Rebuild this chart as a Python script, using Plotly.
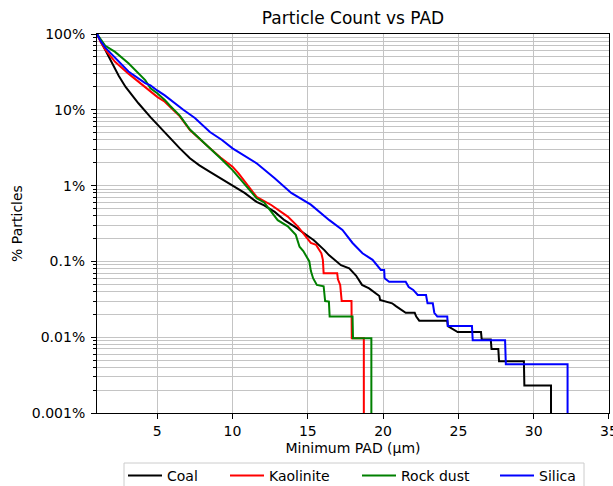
import plotly.graph_objects as go

# ---- data ----
coal_x = [1.0, 1.25, 1.55, 2.0, 2.45, 2.9, 3.75, 4.55, 5.2, 5.85, 6.5, 7.17, 7.8, 8.5, 9.2, 10.0,
          10.8, 11.6, 12.1, 12.8, 13.45, 14.1, 14.8, 15.4, 16.1, 16.4, 17.2, 17.75, 18.2, 18.6,
          19.07, 19.5, 19.75, 19.8, 20.6, 20.85, 21.2, 21.5, 22.1, 22.2, 22.4, 24.26, 24.3, 24.95,
          26.5, 26.55, 27.15, 27.2, 27.65, 27.7, 29.35, 29.38, 31.15, 31.15]
coal_y = [100, 80, 62, 41, 28, 20, 12.2, 8.0, 5.8, 4.2, 3.1, 2.29, 1.85, 1.52, 1.25, 1.02,
          0.8, 0.61, 0.55, 0.45, 0.35, 0.29, 0.234, 0.19, 0.141, 0.121, 0.089, 0.081, 0.065, 0.049,
          0.044, 0.038, 0.035, 0.031, 0.028, 0.0257, 0.0233, 0.021, 0.021, 0.0187, 0.0165, 0.0165,
          0.014, 0.0117, 0.0117, 0.0093, 0.0093, 0.007, 0.007, 0.0048, 0.0048, 0.0023, 0.0023, 0.0001]

kaol_x = [1.0, 1.25, 1.55, 2.2, 3.09, 4.2, 4.55, 5.0, 5.5, 5.85, 6.5, 7.17, 7.8, 8.5, 9.2, 10.0,
          10.4, 10.9, 11.25, 11.6, 12.57, 13.67, 14.33, 14.9, 15.2, 15.55, 15.9, 16.0, 16.05,
          16.95, 17.0, 17.15, 17.25, 17.9, 17.92, 18.72, 18.72]
kaol_y = [100, 78, 62, 43, 30, 20, 17.4, 14.8, 12.8, 11.0, 8.2, 5.4, 4.1, 3.1, 2.35, 1.78,
          1.45, 1.07, 0.85, 0.71, 0.555, 0.39, 0.29, 0.21, 0.175, 0.165, 0.128, 0.105, 0.07,
          0.07, 0.058, 0.049, 0.03, 0.03, 0.0097, 0.0097, 0.0001]

rock_x = [1.0, 1.55, 2.2, 3.09, 4.2, 4.55, 5.0, 5.5, 5.85, 6.5, 7.17, 7.8, 8.5, 9.2, 10.0, 10.9,
          11.6, 12.1, 12.6, 13.0, 13.67, 14.2, 14.45, 14.7, 15.1, 15.2, 15.35, 15.6, 16.05, 16.15,
          16.4, 16.45, 17.97, 18.0, 19.22, 19.22]
rock_y = [100, 70, 58, 41, 24.7, 19.2, 16.5, 13.5, 11.3, 8.4, 5.5, 4.2, 3.15, 2.3, 1.6, 0.97,
          0.68, 0.6, 0.45, 0.35, 0.29, 0.224, 0.156, 0.137, 0.1, 0.075, 0.06, 0.049, 0.047, 0.03,
          0.0295, 0.0187, 0.0187, 0.0097, 0.0097, 0.0001]

sil_x = [1.0, 1.25, 1.55, 2.2, 3.09, 4.2, 4.55, 5.0, 5.5, 6.73, 7.5, 8.5, 9.3, 10.0, 10.8, 11.6,
         12.8, 13.9, 15.2, 16.43, 17.3, 17.97, 18.63, 19.3, 19.85, 20.07, 20.1, 20.4, 21.5, 21.7,
         22.0, 22.3, 22.85, 22.95, 23.3, 23.4, 23.6, 24.26, 24.3, 25.9, 25.95, 28.1, 28.15,
         32.25, 32.25]
sil_y = [100, 80, 66, 48, 32, 22.5, 21, 18, 15.5, 10, 7.8, 5.1, 4.0, 3.1, 2.45, 1.97,
         1.25, 0.8, 0.56, 0.35, 0.26, 0.175, 0.128, 0.105, 0.077, 0.077, 0.06, 0.054, 0.054, 0.046,
         0.042, 0.036, 0.036, 0.028, 0.028, 0.021, 0.0187, 0.0187, 0.014, 0.014, 0.0091, 0.0091,
         0.0044, 0.0044, 0.0001]

series = [("Coal", coal_x, coal_y, "#000000"),
          ("Kaolinite", kaol_x, kaol_y, "#ff0000"),
          ("Rock dust", rock_x, rock_y, "#008000"),
          ("Silica", sil_x, sil_y, "#0000ff")]

y_tickvals = [0.001, 0.01, 0.1, 1, 10, 100]
y_ticktext = ["0.001%", "0.01%", "0.1%", "1%", "10%", "100%"]
x_tickvals = [5, 10, 15, 20, 25, 30, 35]
minor_vals = [m * 10.0 ** e for e in range(-3, 2) for m in range(2, 10)]

FONT = "DejaVu Sans"
GRID = "#c4c4c4"
L, R, T, B, W, H = 97, 4, 34, 73, 613, 486
PW, PH = W - L - R, H - T - B


def px_x(p):
    return (p - L) / PW


def px_y(p):
    return (H - B - p) / PH


# legend entry left edges (px) — each entry in its own legend, framed together
legend_left_px = [123, 225, 357, 495]
legend_ids = ["legend", "legend2", "legend3", "legend4"]

fig = go.Figure()
for (name, xs, ys, col), lid in zip(series, legend_ids):
    fig.add_trace(go.Scatter(x=xs, y=ys, mode="lines", name=name, legend=lid,
                             line=dict(color=col, width=2)))

layout_legends = {}
for lid, lp in zip(legend_ids, legend_left_px):
    layout_legends[lid] = dict(orientation="h", x=px_x(lp), xanchor="left",
                               y=px_y(460), yanchor="top", borderwidth=0,
                               bgcolor="rgba(0,0,0,0)", itemwidth=34,
                               font=dict(size=14, family=FONT, color="#000000"))

fig.update_layout(
    width=W, height=H,
    margin=dict(l=L, r=R, t=T, b=B, autoexpand=False),
    paper_bgcolor="white", plot_bgcolor="white",
    font=dict(family=FONT, size=14, color="#000000"),
    title=dict(text="Particle Count vs PAD", font=dict(size=17, family=FONT, color="#000000"),
               x=0.5, xref="paper", xanchor="center", y=1 - 18 / H, yref="container",
               yanchor="middle"),
    showlegend=True,
    shapes=[dict(type="rect", xref="paper", yref="paper",
                 x0=px_x(124), x1=px_x(584), y0=px_y(463), y1=px_y(492),
                 line=dict(color="#cccccc", width=1), fillcolor="white", layer="below")],
    **layout_legends,
)
fig.update_xaxes(range=[1, 35.001], tickvals=x_tickvals, showgrid=True, gridcolor=GRID, gridwidth=1,
                 showline=True, linecolor="black", linewidth=1, mirror=True,
                 ticks="outside", ticklen=5, tickcolor="black", zeroline=False,
                 ticklabelstandoff=0, ticklabeloverflow="allow", tickfont=dict(size=14),
                 title=dict(text="Minimum PAD (μm)", standoff=5, font=dict(size=14)),
                 automargin=False)
fig.update_yaxes(type="log", range=[-3, 2], tickvals=y_tickvals, ticktext=y_ticktext,
                 showgrid=True, gridcolor=GRID, gridwidth=1,
                 showline=True, linecolor="black", linewidth=1, mirror=True,
                 ticks="outside", ticklen=5, tickcolor="black", zeroline=False,
                 ticklabelstandoff=3, tickfont=dict(size=14),
                 minor=dict(tickvals=minor_vals, ticks="outside", ticklen=3, tickcolor="black",
                            showgrid=True, gridcolor=GRID, gridwidth=1),
                 title=dict(text="% Particles", standoff=5, font=dict(size=14)),
                 automargin=False)

fig.write_html("out.html")
